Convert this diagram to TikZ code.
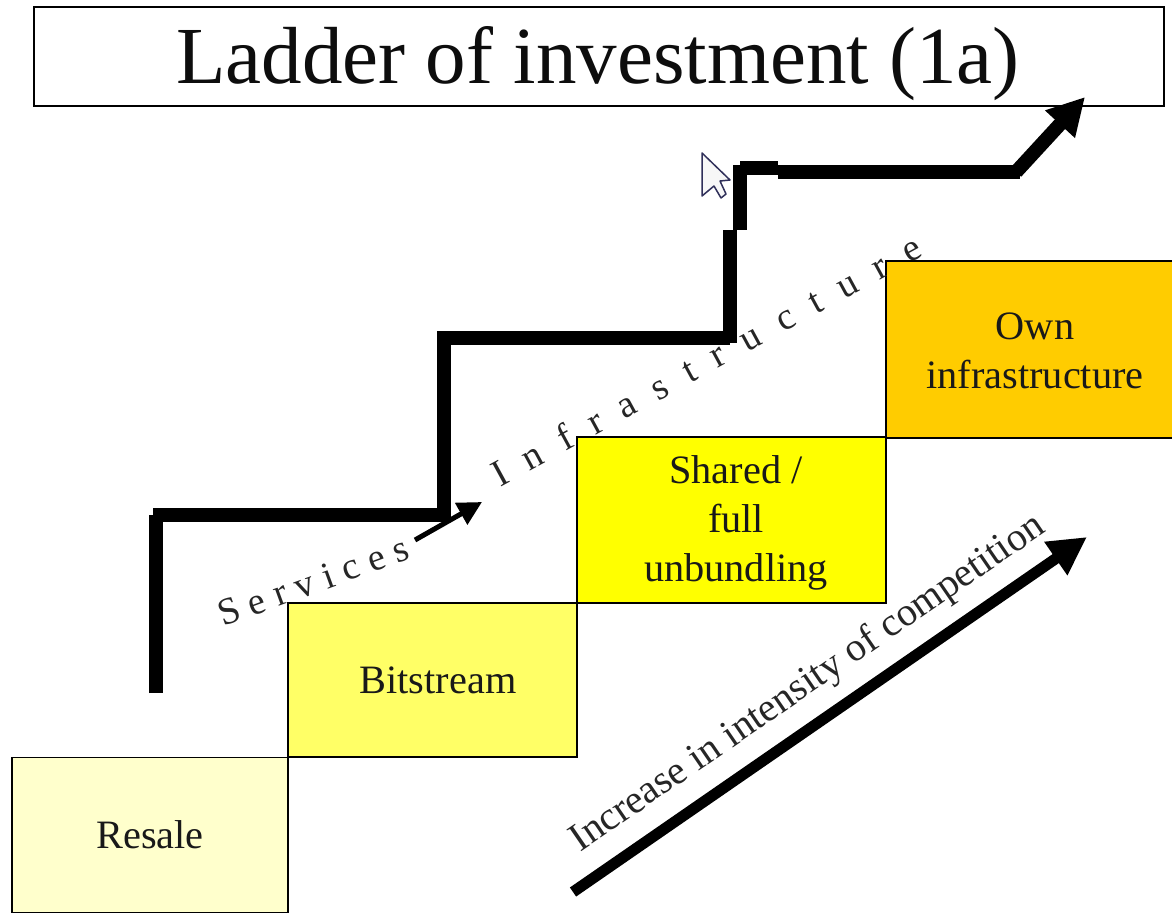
\documentclass[tikz,border=0pt]{standalone}
\usepackage{fontspec}
\setmainfont{Liberation Serif}
\usetikzlibrary{arrows.meta}
\definecolor{stepa}{HTML}{FFFFCC}
\definecolor{stepb}{HTML}{FFFF66}
\definecolor{stepc}{HTML}{FFFF00}
\definecolor{stepd}{HTML}{FFCC00}
\definecolor{cursorline}{HTML}{30305A}
\tikzset{
  rung/.style={draw=black,line width=1.3pt,anchor=north west,inner sep=0pt,outer sep=0pt},
  lab/.style={align=center,inner sep=0pt,font=\fontsize{40.3}{49}\selectfont,text=black!90},
  heavy/.style={line width=14pt,line cap=butt,line join=miter,draw=black},
  slant/.style={inner sep=0pt,text=black!85},
}
\begin{document}
\begin{tikzpicture}[x=1pt,y=-1pt]
\useasboundingbox (0,0) rectangle (1172,914);
\fill[white] (0,0) rectangle (1172,914);
% steps
\node[rung,fill=stepa,minimum width=276pt,minimum height=155pt] (resale) at (12,757.5) {};
\node[rung,fill=stepb,minimum width=289pt,minimum height=154pt] (bitstream) at (288,603) {};
\node[rung,fill=stepc,minimum width=309pt,minimum height=166pt] (shared) at (577,437) {};
\node[rung,fill=stepd,minimum width=290pt,minimum height=177pt] (own) at (886,261) {};
\node[lab] (tresale) at (150,835) {Resale};
\node[lab] (tbit) at (438,680) {Bitstream};
\node[lab] (tshared) at (736,523) {Shared /\\full\\unbundling};
\node[lab] (town) at (1035,350.5) {Own\\infrastructure};
% title
\node[rung,fill=white,minimum width=1130pt,minimum height=99pt] (titlebox) at (34,7) {};
\node[inner sep=0pt,font=\fontsize{81}{90}\selectfont,text=black!95] (title) at (598,64) {Ladder of investment (1a)};
% stair path
\coordinate (p0) at (156,693);
\coordinate (p1) at (156,515);
\coordinate (p2) at (153,515);
\coordinate (p3) at (444,515);
\coordinate (p4) at (444,338);
\coordinate (p5) at (437,338);
\coordinate (p6) at (730,338);
\coordinate (p7) at (730,230);
\coordinate (p8) at (740,230);
\coordinate (p9) at (740,165);
\coordinate (p10) at (740,168);
\coordinate (p11) at (778,168);
\coordinate (p12) at (778,172);
\coordinate (p13) at (1020,172);
\coordinate (p14) at (1016,172);
\coordinate (p15) at (1085,97);
\draw[heavy] (p0) -- (p1);
\draw[heavy] (p2) -- (p3);
\draw[heavy] (p3) ++(0,7) -- (p4);
\draw[heavy] (p5) -- (p6) ++(7,0);
\draw[heavy] (p6) ++(0,5) -- (p7);
\draw[heavy] (p8) -- (p9);
\draw[heavy] (p10) -- (p11);
\draw[heavy] (p12) -- (p13);
\draw[line width=14pt,-{Triangle[length=37pt,width=38pt]}] (p14) -- (p15);
% slanted labels
\node[slant,rotate=20,font=\fontsize{38}{40}\selectfont\addfontfeature{LetterSpace=27}] (services) at (313,581) {Services};
\coordinate (sa) at (415,540);
\coordinate (sb) at (482,502);
\draw[line width=5pt,-{Triangle[length=24pt,width=24pt]}] (sa) -- (sb);
\node[slant,rotate=28.6,font=\fontsize{38}{40}\selectfont\addfontfeature{LetterSpace=56}] (infra) at (706,360) {Infrastructure};
% competition
\coordinate (ca) at (573,892);
\coordinate (cb) at (1087,537);
\draw[line width=11pt,-{Triangle[length=38pt,width=38pt]}] (ca) -- (cb);
\node[slant,rotate=34.5,font=\fontsize{40}{44}\selectfont] (increase) at (808,684) {Increase in intensity of competition};
% mouse cursor
\draw[cursorline,line width=1.5pt,fill=black!3,line join=round] (702,153) -- (730,180) -- (720,181) -- (726,194) -- (721,198) -- (714,186) -- (702,196) -- cycle;
\end{tikzpicture}
\end{document}
